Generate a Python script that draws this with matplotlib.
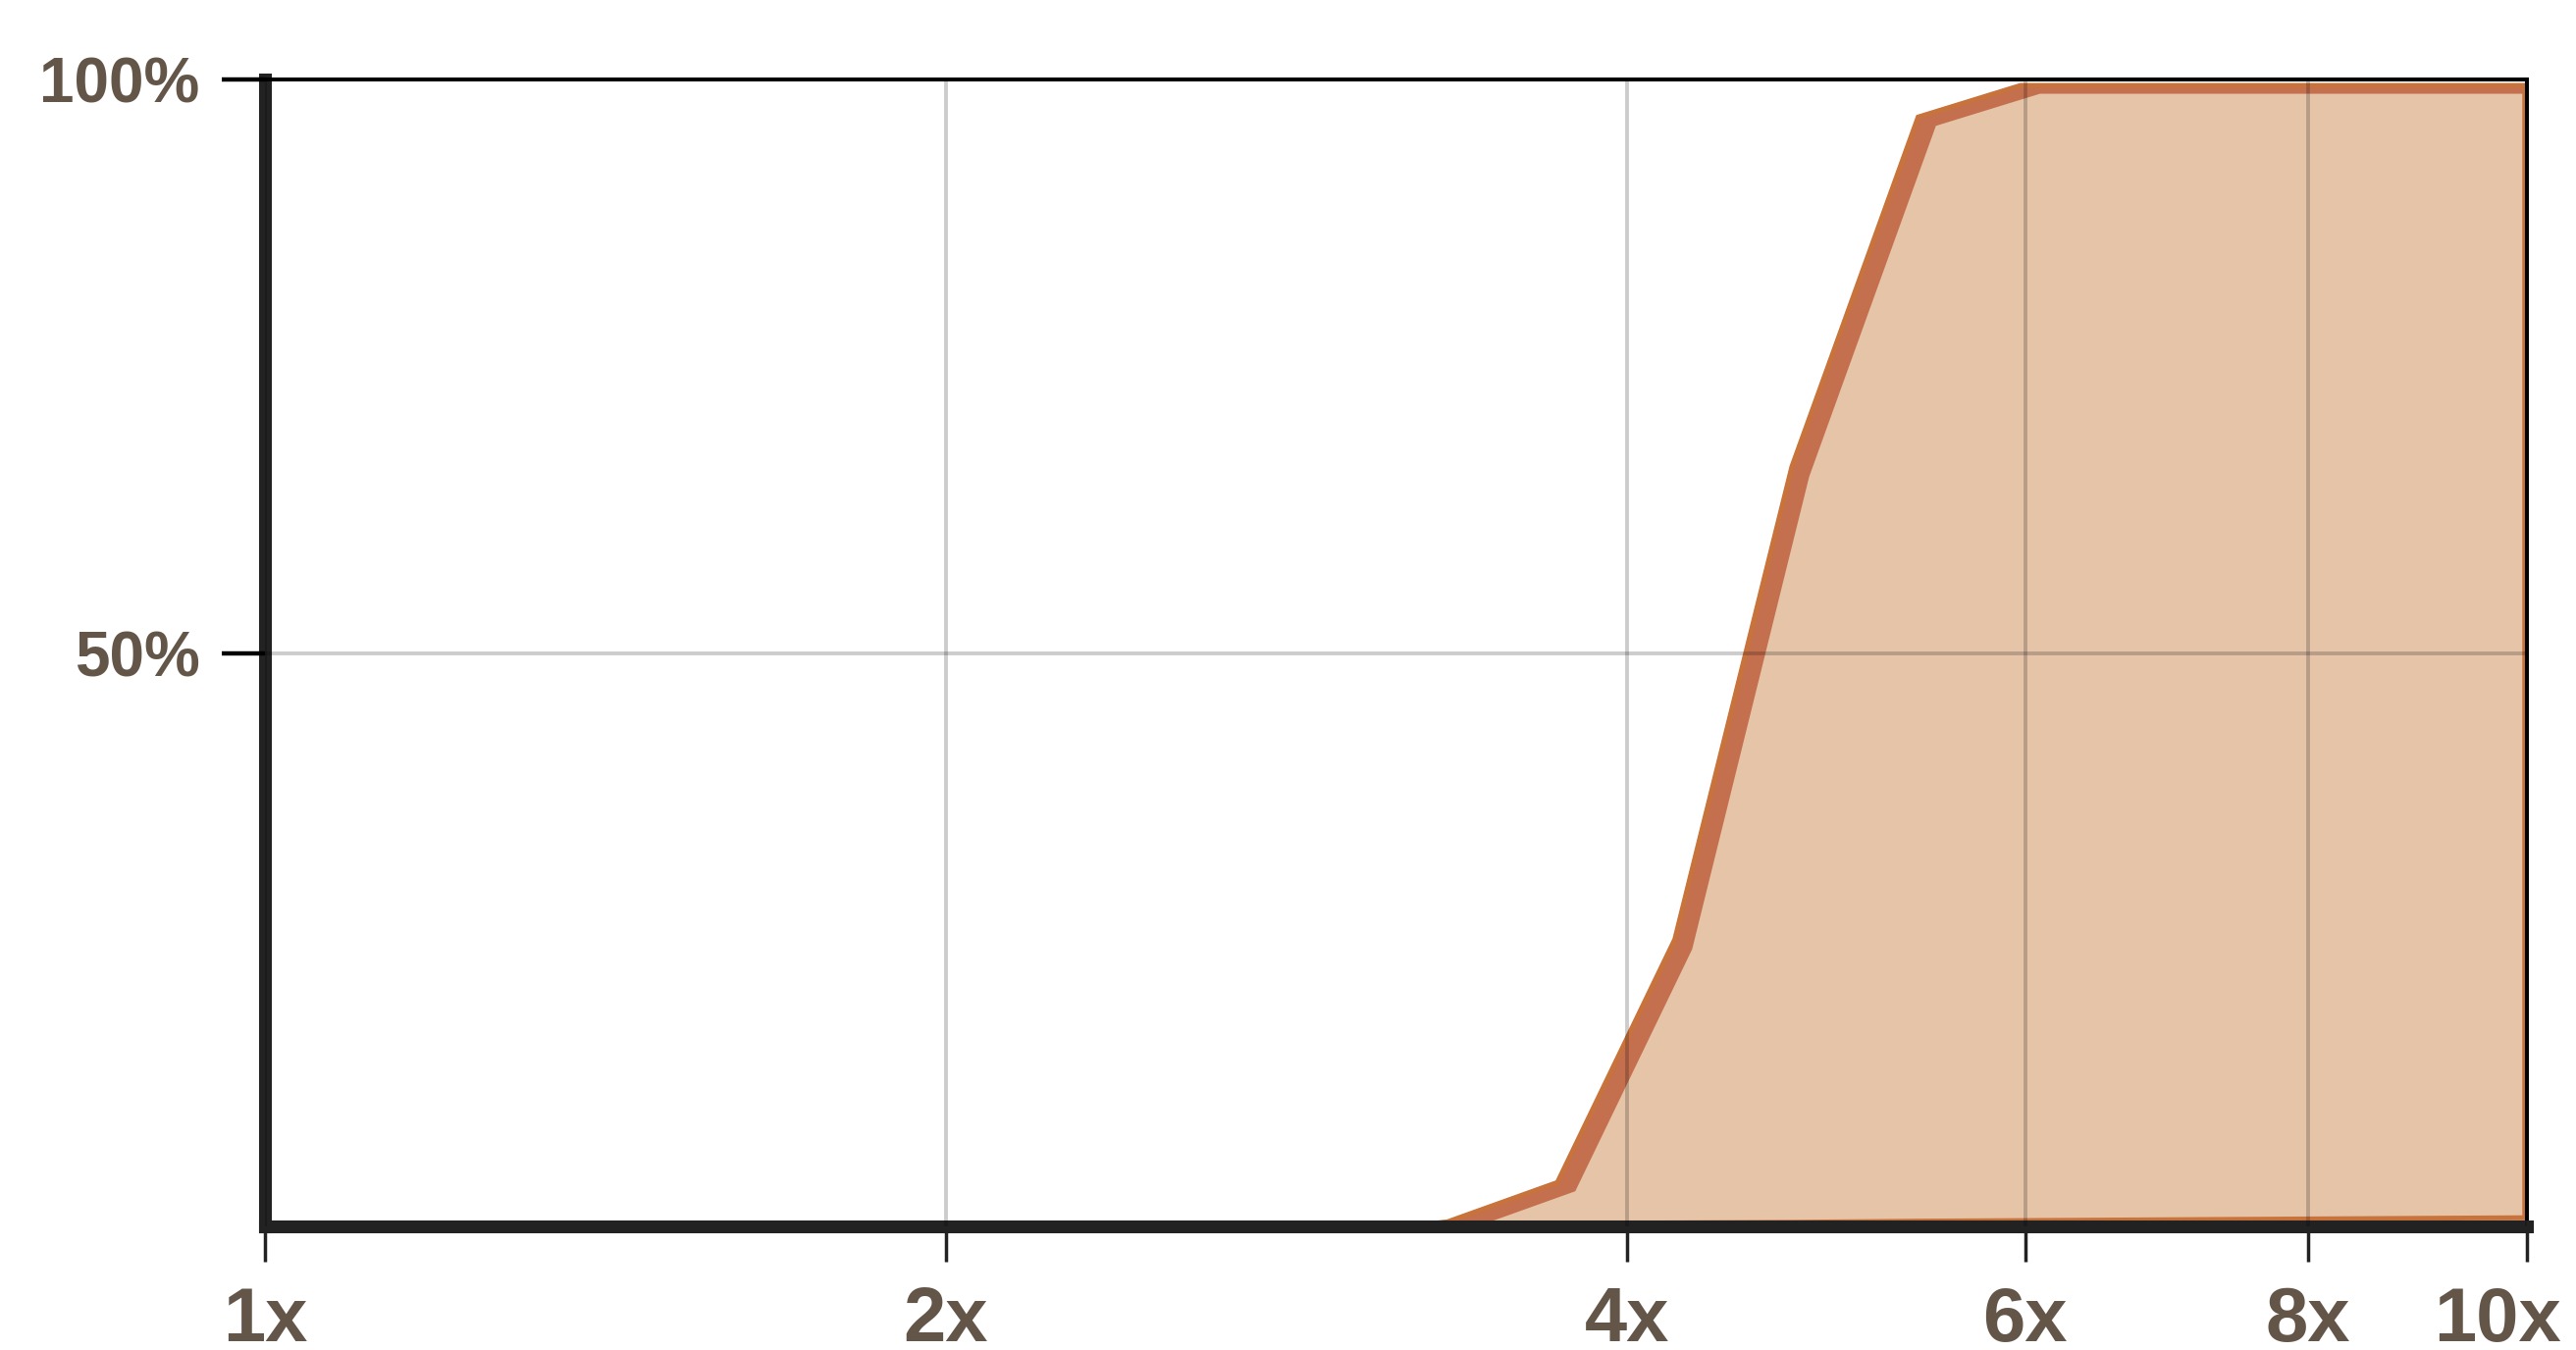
import matplotlib
matplotlib.use("Agg")
import matplotlib.pyplot as plt
from matplotlib.patches import PathPatch
from matplotlib.transforms import Affine2D
from matplotlib.ticker import NullLocator

# speedup factor vs share of runs reaching it (%)
speedup = [1, 3.19, 3.33, 3.72, 4.19, 4.72, 5.37, 5.97, 10]
share_upper = [0, 0.2, 0.6, 4.0, 25.1, 66.3, 96.9, 99.7, 99.7]
share_lower = [0, 0, 0, 0.05, 0.1, 0.15, 0.25, 0.3, 0.55]

x_ticks = [1, 2, 4, 6, 8, 10]
x_labels = ['1x', '2x', '4x', '6x', '8x', '10x']
y_ticks = [50, 100]
y_labels = ['50%', '100%']

plt.rcParams['font.family'] = ['Liberation Sans', 'DejaVu Sans']
plt.rcParams['font.weight'] = 'bold'

label_color = '#635648'
dark = '#c46f4e'
edge = '#c8733c'
light = '#e5c4a8'

fig = plt.figure(figsize=(26.25, 13.76), dpi=100)
ax = fig.add_axes([0.1029, 0.0916, 0.8781, 0.8495])
ax.set_xscale('log')
ax.set_xlim(1, 10)
ax.set_ylim(0, 100)

# dark band = full area, light fill shifted inside it
band = ax.fill_between(speedup, share_lower, share_upper, color=dark, lw=0, zorder=1)
path = band.get_paths()[0]
clip = PathPatch(path, transform=ax.transData, fc='none', ec='none')

inner = PathPatch(path, transform=ax.transData + Affine2D().translate(20, -11),
                  fc=light, ec='none', zorder=1.2)
ax.add_patch(inner)
inner.set_clip_path(clip)

outline = PathPatch(path, transform=ax.transData, fc='none', ec=edge, lw=7, zorder=1.4)
ax.add_patch(outline)
outline.set_clip_path(clip)

ax.xaxis.set_minor_locator(NullLocator())
ax.set_xticks(x_ticks, x_labels)
ax.set_yticks(y_ticks, y_labels)

ax.set_axisbelow(False)
ax.grid(True, color='black', alpha=0.2, lw=2.8)

ax.tick_params(axis='x', length=26, width=2.5, color='#222222', pad=17,
               labelsize=56, labelcolor=label_color)
ax.tick_params(axis='y', length=32, width=3.2, color='black', pad=16,
               labelsize=46, labelcolor=label_color)

for lab in ax.get_xticklabels():
    lab.set_fontweight('bold')
for lab in ax.get_yticklabels():
    lab.set_fontweight('bold')

last = ax.get_xticklabels()[-1]
last.set_transform(last.get_transform() + Affine2D().translate(-30, 0))

ax.spines['left'].set_linewidth(9.4)
ax.spines['left'].set_color('#222222')
ax.spines['bottom'].set_linewidth(9.4)
ax.spines['bottom'].set_color('#222222')
ax.spines['top'].set_linewidth(2.9)
ax.spines['top'].set_color('black')
ax.spines['right'].set_linewidth(2.9)
ax.spines['right'].set_color('black')

fig.savefig('out.png', dpi=100)
